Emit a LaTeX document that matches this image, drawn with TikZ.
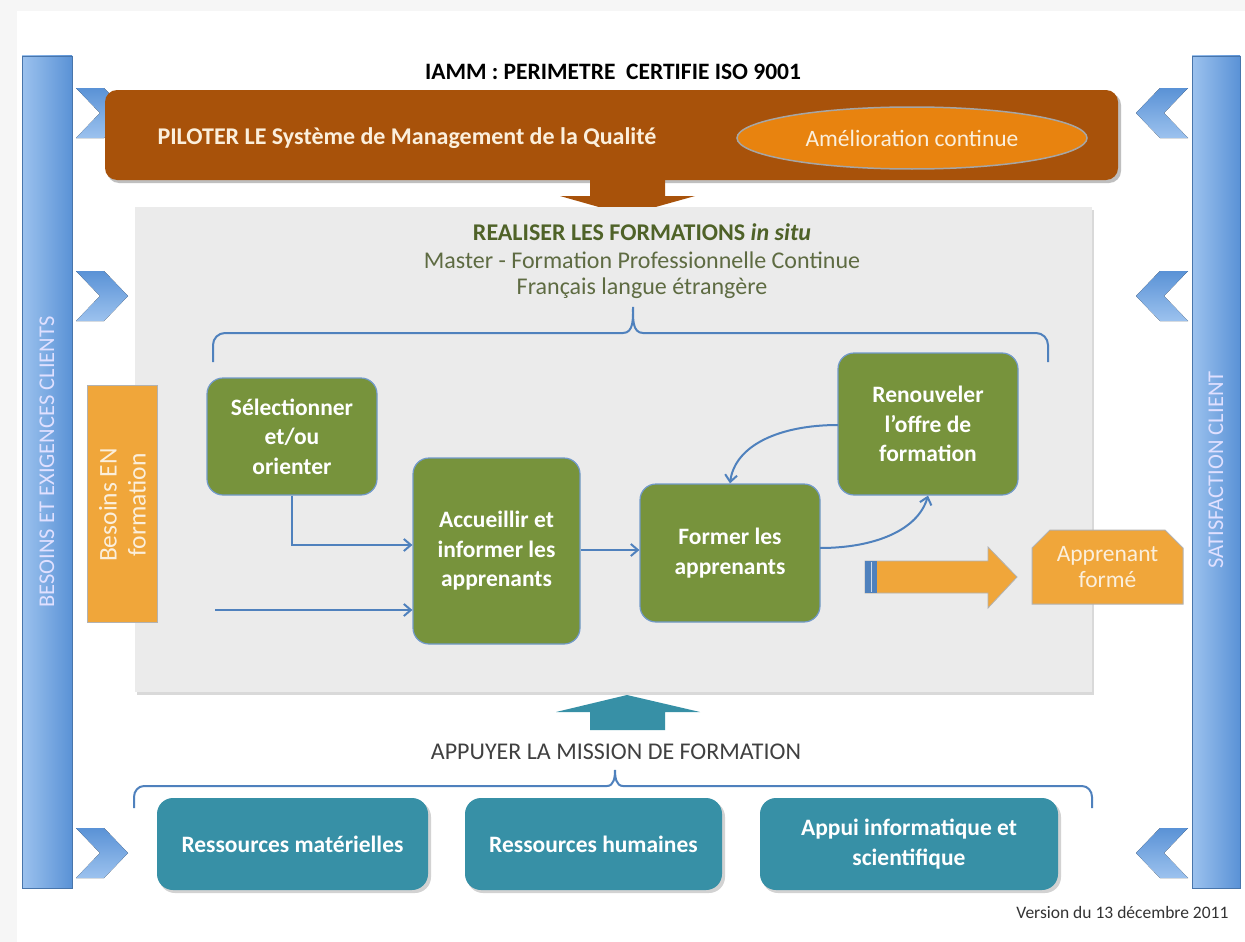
\documentclass[tikz,border=0pt]{standalone}
\usepackage{fontspec}
\setmainfont{Carlito}
\usetikzlibrary{arrows.meta,shapes.geometric,shapes.misc,calc}
\definecolor{brownbar}{HTML}{A8520A}
\definecolor{ellorange}{HTML}{E8830F}
\definecolor{boxgreen}{HTML}{77933C}
\definecolor{boxteal}{HTML}{3790A6}
\definecolor{lightorange}{HTML}{F0A63A}
\definecolor{panelgray}{HTML}{EBEBEB}
\definecolor{bracecol}{HTML}{4F81BD}
\definecolor{barlight}{HTML}{9CC2EE}
\definecolor{bardark}{HTML}{5A92D6}
\definecolor{olivetext}{HTML}{4F6228}
\definecolor{cream}{HTML}{FBEFDC}
\tikzset{
  bluebar/.style={left color=barlight,right color=bardark,draw=bardark!80!black,line width=0.4pt},
  chevron/.style={top color=bardark,bottom color=barlight,draw=none},
  greenbox/.style={fill=boxgreen,draw=bracecol!80,line width=1.2pt,rounded corners=16pt,text=white,font=\bfseries\fontsize{23.5}{29.5}\selectfont,align=center},
  tealbox/.style={fill=boxteal,draw=none,rounded corners=16pt,text=white,font=\bfseries\fontsize{23.5}{29.5}\selectfont,align=center},
  flow/.style={draw=bracecol,line width=2pt,-{Straight Barb[length=7pt,width=12pt]}},
  bracepath/.style={draw=bracecol,line width=2pt},
}
\begin{document}
\begin{tikzpicture}[x=1pt,y=-1pt]
\useasboundingbox (0,0) rectangle (1245,942);
\fill[white] (0,0) rectangle (1245,942);
\fill[gray!7] (0,0) rectangle (1245,11);
\fill[gray!7] (0,0) rectangle (17,942);
% blue bars
\path[bluebar] (22,56) rectangle (72,888);
\path[bluebar] (1192,56) rectangle (1240,888);
\node[rotate=90,text=white!88!blue,font=\fontsize{22.5}{26}\selectfont] (besoinsclients) at (47,462) {BESOINS ET EXIGENCES CLIENTS};
\node[rotate=90,text=white!88!blue,font=\fontsize{22.5}{26}\selectfont] (satisfaction) at (1216,470) {SATISFACTION CLIENT};
% chevrons
\foreach \cy in {113,296,853}{
  \fill[chevron] (76,\cy-25) -- (104,\cy-25) -- (128,\cy) -- (104,\cy+25) -- (76,\cy+25) -- (100,\cy) -- cycle;
  \fill[chevron] (1188,\cy-25) -- (1160,\cy-25) -- (1136,\cy) -- (1160,\cy+25) -- (1188,\cy+25) -- (1164,\cy) -- cycle;
}
% title
\node[font=\bfseries\fontsize{23.5}{26}\selectfont] (title) at (613,72) {IAMM : PERIMETRE~~CERTIFIE ISO 9001};
% brown bar
\fill[gray!50,rounded corners=12pt] (107,93) rectangle (1121,183);
\node[fill=brownbar,rounded corners=12pt,minimum width=1013pt,minimum height=90pt,inner sep=0pt] (piloter) at (611.5,135) {};
\node[anchor=west,text=cream,font=\bfseries\fontsize{24}{28}\selectfont] (pilotertext) at (154,138) {PILOTER LE Système de Management de la Qualité};
\node[ellipse,fill=ellorange,draw=gray!70,line width=1.5pt,minimum width=350pt,minimum height=62pt,inner sep=0pt,text=cream,font=\fontsize{23.5}{26}\selectfont] (amelioration) at (912,138) {Amélioration continue};
% brown down arrow
\fill[brownbar] (590,180) -- (665,180) -- (665,196) -- (695,196) -- (627,215) -- (560,196) -- (590,196) -- cycle;
% gray panel
\fill[gray!30] (137,210) rectangle (1094,695);
\node[fill=panelgray,minimum width=957pt,minimum height=485pt,inner sep=0pt] (panel) at (613.5,449.5) {};
\node[text=olivetext,font=\bfseries\fontsize{24}{28}\selectfont] (realiser) at (642,232) {REALISER LES FORMATIONS \textit{in situ}};
\node[text=olivetext!70!gray,font=\fontsize{24}{28}\selectfont] (master) at (642,260) {Master - Formation Professionnelle Continue};
\node[text=olivetext!70!gray,font=\fontsize{24}{28}\selectfont] (fle) at (642,288) {Français langue étrangère};
% top brace
\draw[bracepath] (213,362) -- (213,345) to[out=90,in=180] (225,333) -- (623,333) to[out=0,in=-90] (633,307) to[out=-90,in=180] (643,333) -- (1036,333) to[out=0,in=90] (1048,345) -- (1048,362);
% besoins EN formation
\node[chamfered rectangle,chamfered rectangle corners={north west,south west},chamfered rectangle xsep=5pt,chamfered rectangle ysep=5pt,fill=lightorange,draw=gray!60,line width=1pt,minimum width=70pt,minimum height=237pt,inner sep=0pt] (besoinsEN) at (122,503.5) {};
\node[rotate=90,text=cream,font=\fontsize{25.5}{29}\selectfont,align=center] (besoinsENtext) at (122.5,505) {Besoins EN\\formation};
% green boxes
\node[greenbox,minimum width=170pt,minimum height=117pt,inner sep=0pt] (selectionner) at (292,436.5) {Sélectionner\\et/ou\\orienter};
\node[greenbox,minimum width=167pt,minimum height=186pt,inner sep=0pt] (accueillir) at (496.5,551) {Accueillir et\\informer les\\apprenants};
\node[greenbox,minimum width=180pt,minimum height=138pt,inner sep=0pt] (former) at (730,553) {Former les\\apprenants};
\node[greenbox,minimum width=180pt,minimum height=142pt,inner sep=0pt] (renouveler) at (928,424) {Renouveler\\l’offre de\\formation};
% flows
\coordinate (selturn) at (292,545);
\coordinate (freestart) at (215,610);
\coordinate (formerout) at (820,548);
\coordinate (renouvout) at (838,425);
\draw[flow] (selectionner.south) -- (selturn) -- (selturn -| accueillir.west);
\draw[flow] (freestart) -- (freestart -| accueillir.west);
\draw[flow] (accueillir.east |- 0,550) -- (former.west |- 0,550);
\draw[flow] (formerout) .. controls (875,548) and (918,530) .. (renouveler.south);
\draw[flow] (renouvout) .. controls (780,425) and (735,445) .. (former.north);
% big orange arrow
\fill[lightorange,draw=gray!60,line width=0.8pt] (865,561) -- (988,561) -- (988,547) -- (1017,577) -- (988,608) -- (988,593) -- (865,593) -- cycle;
\fill[bracecol] (865,561) rectangle (877,593);
\draw[white!70!bracecol,line width=1pt] (871,562) -- (871,592);
% apprenant forme
\node[chamfered rectangle,chamfered rectangle corners={north east,north west},chamfered rectangle xsep=9pt,chamfered rectangle ysep=9pt,fill=lightorange,draw=gray!60,line width=1pt,minimum width=151pt,minimum height=74pt,inner sep=0pt,text=cream,font=\fontsize{23.5}{26}\selectfont,align=center] (apprenant) at (1107.5,567) {Apprenant\\formé};
% teal up arrow
\fill[boxteal] (590,730) -- (665,730) -- (665,712) -- (700,712) -- (627,695) -- (556,712) -- (590,712) -- cycle;
\node[text=black!75,font=\fontsize{24}{28}\selectfont] (appuyer) at (616,752) {APPUYER LA MISSION DE FORMATION};
% bottom brace
\draw[bracepath] (134,808) -- (134,797) to[out=90,in=180] (144,786) -- (607,786) to[out=0,in=-90] (615,770) to[out=-90,in=180] (623,786) -- (1082,786) to[out=0,in=90] (1092,797) -- (1092,808);
% teal boxes
\fill[gray!35,rounded corners=16pt] (159,801) rectangle (431,893);
\fill[gray!35,rounded corners=16pt] (467,801) rectangle (725,893);
\fill[gray!35,rounded corners=16pt] (762,801) rectangle (1061,893);
\node[tealbox,minimum width=271pt,minimum height=92pt,inner sep=0pt] (resmat) at (292.5,844) {Ressources matérielles};
\node[tealbox,minimum width=257pt,minimum height=92pt,inner sep=0pt] (reshum) at (593.5,844) {Ressources humaines};
\node[tealbox,minimum width=298pt,minimum height=92pt,inner sep=0pt] (appui) at (909,844) {Appui informatique et\\scientifique};
% version
\node[anchor=east,text=black!80,font=\fontsize{17.5}{20}\selectfont] (version) at (1232,912) {Version du 13 décembre 2011};
\end{tikzpicture}
\end{document}
